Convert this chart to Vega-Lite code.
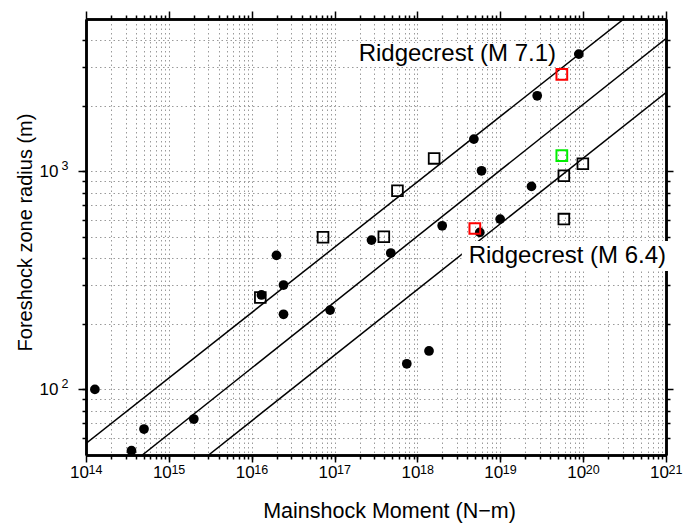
{
  "$schema": "https://vega.github.io/schema/vega-lite/v6.json",
  "width": 580,
  "height": 436,
  "autosize": {"type": "none"},
  "padding": {"left": 86, "top": 19, "right": 26, "bottom": 68},
  "background": "white",
  "config": {
    "view": {"stroke": null},
    "axis": {
      "labelFont": "Liberation Sans",
      "titleFont": "Liberation Sans",
      "domainColor": "black",
      "tickColor": "black",
      "labelColor": "black",
      "titleColor": "black",
      "domainWidth": 2.5,
      "tickWidth": 1.5,
      "gridColor": "#9a9a9a",
      "gridDash": [1.5, 3],
      "gridWidth": 1,
      "titleFontWeight": "normal",
      "labelFlush": false,
      "labelOverlap": false
    }
  },
  "datasets": {
    "lines": [
      {"line": "upper", "M": 1e14, "r": 56.5},
      {"line": "upper", "M": 1e21, "r": 7112},
      {"line": "middle", "M": 4.79e14, "r": 50},
      {"line": "middle", "M": 1e21, "r": 4070},
      {"line": "lower", "M": 3.02e15, "r": 50},
      {"line": "lower", "M": 1e21, "r": 2301}
    ],
    "boxes": [
      {"M1": 1.614e17, "M2": 5.69e19, "r1": 3877, "r2": 3041},
      {"M1": 3.44e18, "M2": 1.178e21, "r1": 478.7, "r2": 349}
    ],
    "circles": [
      {"M": 1.28e14, "r": 100},
      {"M": 3.54e14, "r": 52.3},
      {"M": 5.01e14, "r": 65.8},
      {"M": 2.0e15, "r": 73.1},
      {"M": 1.31e16, "r": 271},
      {"M": 1.99e16, "r": 412},
      {"M": 2.42e16, "r": 301},
      {"M": 2.42e16, "r": 221},
      {"M": 8.83e16, "r": 231},
      {"M": 2.79e17, "r": 484},
      {"M": 4.77e17, "r": 422},
      {"M": 7.44e17, "r": 131},
      {"M": 1.38e18, "r": 150},
      {"M": 1.99e18, "r": 563},
      {"M": 4.8e18, "r": 1406},
      {"M": 5.66e18, "r": 525},
      {"M": 5.94e18, "r": 1006},
      {"M": 9.96e18, "r": 604},
      {"M": 2.38e19, "r": 853},
      {"M": 2.79e19, "r": 2222},
      {"M": 8.87e19, "r": 3452}
    ],
    "squares": [
      {"M": 1.27e16, "r": 264, "event": "Other"},
      {"M": 7.26e16, "r": 499, "event": "Other"},
      {"M": 3.93e17, "r": 501, "event": "Other"},
      {"M": 5.74e17, "r": 815, "event": "Other"},
      {"M": 1.59e18, "r": 1147, "event": "Other"},
      {"M": 5.85e19, "r": 954, "event": "Other"},
      {"M": 9.92e19, "r": 1083, "event": "Other"},
      {"M": 5.85e19, "r": 604, "event": "Other"},
      {"M": 5.53e19, "r": 2786, "event": "Ridgecrest"},
      {"M": 4.93e18, "r": 547, "event": "Ridgecrest"},
      {"M": 5.53e19, "r": 1180, "event": "Ridgecrest alt"}
    ],
    "labels": [
      {"M": 3.03e18, "r": 3214, "label": "Ridgecrest (M 7.1)"},
      {"M": 6.45e19, "r": 378.5, "label": "Ridgecrest (M 6.4)"}
    ]
  },
  "layer": [
    {
      "data": {"name": "lines"},
      "mark": {"type": "line", "clip": true, "color": "black", "strokeWidth": 1.5},
      "encoding": {
        "x": {
          "field": "M", "type": "quantitative",
          "scale": {"type": "log", "domain": [1e14, 1e21], "nice": false},
          "axis": {
            "orient": "bottom",
            "values": [1e14, 1e15, 1e16, 1e17, 1e18, 1e19, 1e20, 1e21],
            "tickSize": 7,
            "labelFontSize": 17,
            "labelPadding": 2,
            "labelOffset": -7,
            "labelExpr": "'10'",
            "title": "Mainshock Moment (N−m)",
            "titleFontSize": 21.5,
            "titleX": 303,
            "titleY": 62.6,
            "titleBaseline": "alphabetic",
            "grid": false
          }
        },
        "y": {
          "field": "r", "type": "quantitative",
          "scale": {"type": "log", "domain": [50, 5000], "nice": false},
          "axis": {
            "orient": "left",
            "values": [100, 1000],
            "tickSize": 8,
            "labelFontSize": 17,
            "labelPadding": 20,
            "labelExpr": "'10'",
            "title": "Foreshock zone radius (m)",
            "titleFontSize": 20,
            "titleAngle": -90,
            "titleX": -54.6,
            "titleY": 213,
            "titleBaseline": "alphabetic",
            "grid": false
          }
        },
        "detail": {"field": "line", "type": "nominal"}
      }
    },
    {
      "data": {"name": "boxes"},
      "mark": {"type": "rect", "color": "white"},
      "encoding": {
        "x": {
          "field": "M1", "type": "quantitative",
          "scale": {"type": "log", "domain": [1e14, 1e21], "nice": false},
          "axis": {
            "orient": "bottom",
            "values": [2e14,3e14,4e14,5e14,6e14,7e14,8e14,9e14,1e15,2e15,3e15,4e15,5e15,6e15,7e15,8e15,9e15,1e16,2e16,3e16,4e16,5e16,6e16,7e16,8e16,9e16,1e17,2e17,3e17,4e17,5e17,6e17,7e17,8e17,9e17,1e18,2e18,3e18,4e18,5e18,6e18,7e18,8e18,9e18,1e19,2e19,3e19,4e19,5e19,6e19,7e19,8e19,9e19,1e20,2e20,3e20,4e20,5e20,6e20,7e20,8e20,9e20],
            "tickSize": 4,
            "labels": false,
            "title": null,
            "grid": true
          }
        },
        "x2": {"field": "M2"},
        "y": {
          "field": "r1", "type": "quantitative",
          "scale": {"type": "log", "domain": [50, 5000], "nice": false},
          "axis": {
            "orient": "left",
            "values": [60,70,80,90,100,200,300,400,500,600,700,800,900,1000,2000,3000,4000],
            "tickSize": 4,
            "labels": false,
            "title": null,
            "grid": true
          }
        },
        "y2": {"field": "r2"}
      }
    },
    {
      "data": {"name": "squares"},
      "transform": [{"filter": "datum.event == 'Other'"}],
      "mark": {"type": "point", "shape": "square", "filled": false, "strokeWidth": 1.8, "size": 115, "opacity": 1, "color": "black"},
      "encoding": {
        "x": {
          "field": "M", "type": "quantitative",
          "scale": {"type": "log", "domain": [1e14, 1e21], "nice": false},
          "axis": {
            "orient": "top",
            "values": [2e14,3e14,4e14,5e14,6e14,7e14,8e14,9e14,2e15,3e15,4e15,5e15,6e15,7e15,8e15,9e15,2e16,3e16,4e16,5e16,6e16,7e16,8e16,9e16,2e17,3e17,4e17,5e17,6e17,7e17,8e17,9e17,2e18,3e18,4e18,5e18,6e18,7e18,8e18,9e18,2e19,3e19,4e19,5e19,6e19,7e19,8e19,9e19,2e20,3e20,4e20,5e20,6e20,7e20,8e20,9e20],
            "tickSize": 4,
            "labels": false,
            "title": null,
            "grid": false
          }
        },
        "y": {
          "field": "r", "type": "quantitative",
          "scale": {"type": "log", "domain": [50, 5000], "nice": false},
          "axis": {
            "orient": "right",
            "values": [60,70,80,90,200,300,400,500,600,700,800,900,2000,3000,4000],
            "tickSize": 4,
            "labels": false,
            "title": null,
            "grid": false
          }
        }
      }
    },
    {
      "data": {"name": "circles"},
      "mark": {"type": "circle", "size": 95, "opacity": 1, "color": "black"},
      "encoding": {
        "x": {
          "field": "M", "type": "quantitative",
          "scale": {"type": "log", "domain": [1e14, 1e21], "nice": false},
          "axis": {
            "orient": "top",
            "values": [1e14, 1e15, 1e16, 1e17, 1e18, 1e19, 1e20, 1e21],
            "tickSize": 8,
            "labels": false,
            "title": null,
            "grid": false
          }
        },
        "y": {
          "field": "r", "type": "quantitative",
          "scale": {"type": "log", "domain": [50, 5000], "nice": false},
          "axis": {
            "orient": "right",
            "values": [100, 1000],
            "tickSize": 7,
            "labels": false,
            "title": null,
            "grid": false
          }
        }
      }
    },
    {
      "data": {"name": "squares"},
      "transform": [{"filter": "datum.event != 'Other'"}],
      "mark": {"type": "point", "shape": "square", "filled": false, "strokeWidth": 2, "size": 115, "opacity": 1},
      "encoding": {
        "x": {
          "field": "M", "type": "quantitative",
          "scale": {"type": "log", "domain": [1e14, 1e21], "nice": false},
          "axis": {
            "orient": "bottom",
            "values": [1e14, 1e15, 1e16, 1e17, 1e18, 1e19, 1e20, 1e21],
            "ticks": false,
            "tickSize": 0,
            "domain": false,
            "labelFontSize": 12.5,
            "labelPadding": 8,
            "labelOffset": 9,
            "labelDy": -1,
            "labelExpr": "'' + round(log(datum.value)/LN10)",
            "title": null,
            "grid": false
          }
        },
        "y": {
          "field": "r", "type": "quantitative",
          "scale": {"type": "log", "domain": [50, 5000], "nice": false},
          "axis": {
            "orient": "left",
            "values": [100, 1000],
            "ticks": false,
            "tickSize": 0,
            "domain": false,
            "labelFontSize": 12.5,
            "labelPadding": 18,
            "labelOffset": -6,
            "labelExpr": "'' + round(log(datum.value)/LN10)",
            "title": null,
            "grid": false
          }
        },
        "color": {
          "field": "event", "type": "nominal",
          "scale": {"domain": ["Ridgecrest", "Ridgecrest alt"], "range": ["#ff0000", "#00ee00"]},
          "legend": null
        }
      }
    },
    {
      "data": {"name": "labels"},
      "mark": {"type": "text", "font": "Liberation Sans", "fontSize": 24, "align": "center", "baseline": "alphabetic", "color": "black"},
      "encoding": {
        "x": {"field": "M", "type": "quantitative", "scale": {"type": "log", "domain": [1e14, 1e21], "nice": false}, "axis": null},
        "y": {"field": "r", "type": "quantitative", "scale": {"type": "log", "domain": [50, 5000], "nice": false}, "axis": null},
        "text": {"field": "label", "type": "nominal"}
      }
    }
  ],
  "resolve": {"axis": {"x": "independent", "y": "independent"}}
}
